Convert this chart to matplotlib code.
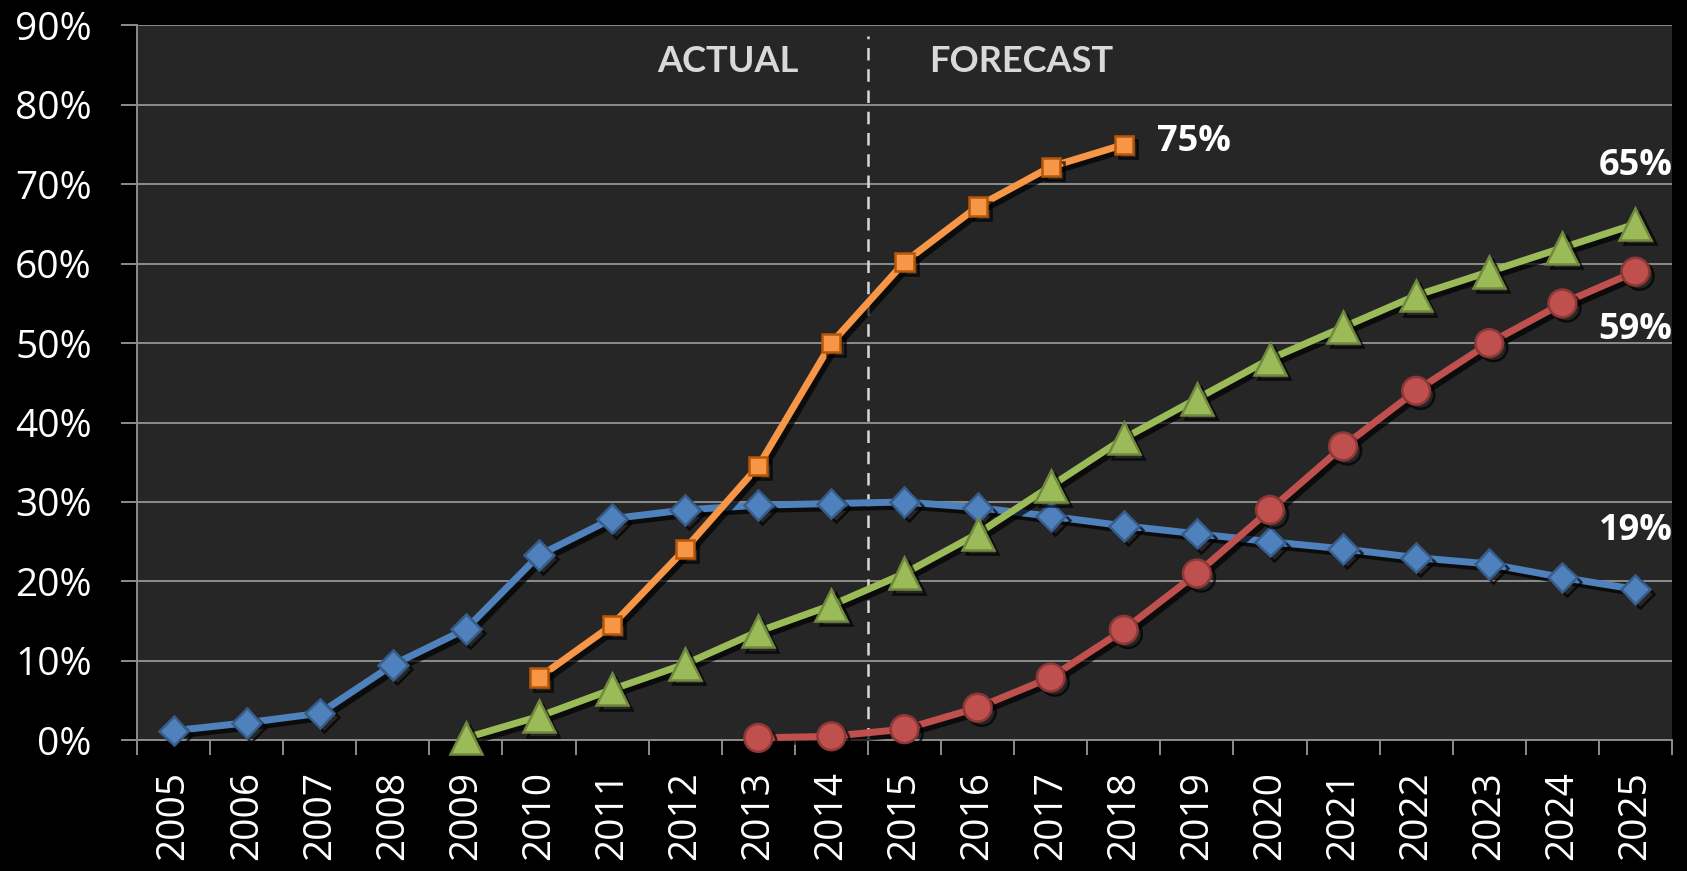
import numpy as np
import matplotlib
matplotlib.use("Agg")
import matplotlib.pyplot as plt
import matplotlib.patheffects as pe
from matplotlib.ticker import FixedLocator, PercentFormatter

# yearly adoption share, in percent
years = list(range(2005, 2026))

blue_years = list(range(2005, 2026))
blue = [1.2, 2.2, 3.4, 9.5, 14.0, 23.3, 27.9, 29.0, 29.6, 29.8, 30.0,
        29.3, 28.2, 27.0, 26.0, 25.0, 24.1, 23.0, 22.2, 20.5, 19.0]

orange_years = list(range(2010, 2019))
orange = [7.9, 14.5, 24.1, 34.5, 50.0, 60.2, 67.2, 72.2, 75.0]

green_years = list(range(2009, 2026))
green = [0.3, 3.0, 6.4, 9.6, 13.7, 17.0, 21.0, 26.0, 32.0, 38.0, 43.0,
         48.0, 52.0, 56.0, 59.0, 62.0, 65.0]

red_years = list(range(2013, 2026))
red = [0.3, 0.5, 1.4, 4.1, 7.9, 13.9, 21.0, 29.0, 37.0, 44.0, 50.0, 55.0, 59.0]

split_year = 2014.5
phase_labels = ["ACTUAL", "FORECAST"]

GRID = "#8c8c8c"
shadow = [pe.SimpleLineShadow(offset=(3, -3), shadow_color="black", alpha=0.7),
          pe.Normal()]

fig = plt.figure(figsize=(16.87, 8.71), dpi=100, facecolor="black")
ax = fig.add_axes([0.0812, 0.1501, 0.9099, 0.8207])
ax.set_facecolor("#262626")

series = [
    (blue_years, blue, "#4f81bd", "#385d8a", "D", 15),
    (orange_years, orange, "#f79646", "#b65708", "s", 13),
    (green_years, green, "#9bbb59", "#71893f", "^", 23),
    (red_years, red, "#c0504d", "#8c3836", "o", 20),
]
for xs, ys, col, edge, mk, ms in series:
    ax.plot(xs, np.array(ys) / 100, color=col, lw=5, marker=mk, ms=ms,
            markerfacecolor=col, markeredgecolor=edge, markeredgewidth=1.8,
            solid_joinstyle="round", path_effects=shadow, zorder=3,
            clip_on=False)

# actual / forecast split
ax.axvline(split_year, ymin=0, ymax=0.985, color="#d9d9d9", lw=1.8,
           linestyle=(0, (5, 3.5)), zorder=2)
ax.text(2012.58, 0.854, phase_labels[0], color="#d9d9d9", fontsize=26,
        fontweight="bold", family="Lato", ha="center", va="center")
ax.text(2016.6, 0.854, phase_labels[1], color="#d9d9d9", fontsize=26,
        fontweight="bold", family="Lato", ha="center", va="center")

# end-of-series value labels
lab = dict(color="white", fontsize=26, fontweight="bold", family="Open Sans",
           va="center")
ax.annotate(f"{orange[-1]:.0f}%", (orange_years[-1], orange[-1] / 100),
            xytext=(24, 2), textcoords="offset points", ha="left", **lab)
ax.annotate(f"{green[-1]:.0f}%", (green_years[-1], green[-1] / 100),
            xytext=(0, 42), textcoords="offset points", ha="center", **lab)
ax.annotate(f"{red[-1]:.0f}%", (red_years[-1], red[-1] / 100),
            xytext=(0, -42), textcoords="offset points", ha="center", **lab)
ax.annotate(f"{blue[-1]:.0f}%", (blue_years[-1], blue[-1] / 100),
            xytext=(0, 42), textcoords="offset points", ha="center", **lab)

ax.set_xlim(years[0] - 0.5, years[-1] + 0.5)
ax.set_ylim(0, 0.9)
ax.set_yticks(np.arange(0, 0.91, 0.1))
ax.yaxis.set_major_formatter(PercentFormatter(1.0, decimals=0))
ax.set_xticks(years)
ax.set_xticklabels([str(y) for y in years], rotation=90)
ax.xaxis.set_minor_locator(FixedLocator(np.arange(years[0] - 0.5, years[-1] + 1)))

ax.grid(axis="y", color=GRID, lw=1.4, zorder=0)
ax.set_axisbelow(True)
for s in ["top", "right"]:
    ax.spines[s].set_visible(False)
for s in ["left", "bottom"]:
    ax.spines[s].set_color(GRID)
    ax.spines[s].set_linewidth(1.4)

ax.tick_params(axis="y", colors=GRID, length=11.5, width=1.4, pad=21,
               labelcolor="white", labelsize=28)
ax.tick_params(axis="x", which="major", length=0, pad=22,
               labelcolor="white", labelsize=28)
ax.tick_params(axis="x", which="minor", length=11, width=1.4, colors=GRID)
for t in ax.get_xticklabels() + ax.get_yticklabels():
    t.set_family("Open Sans")

fig.savefig("out.png", dpi=100, facecolor="black")
